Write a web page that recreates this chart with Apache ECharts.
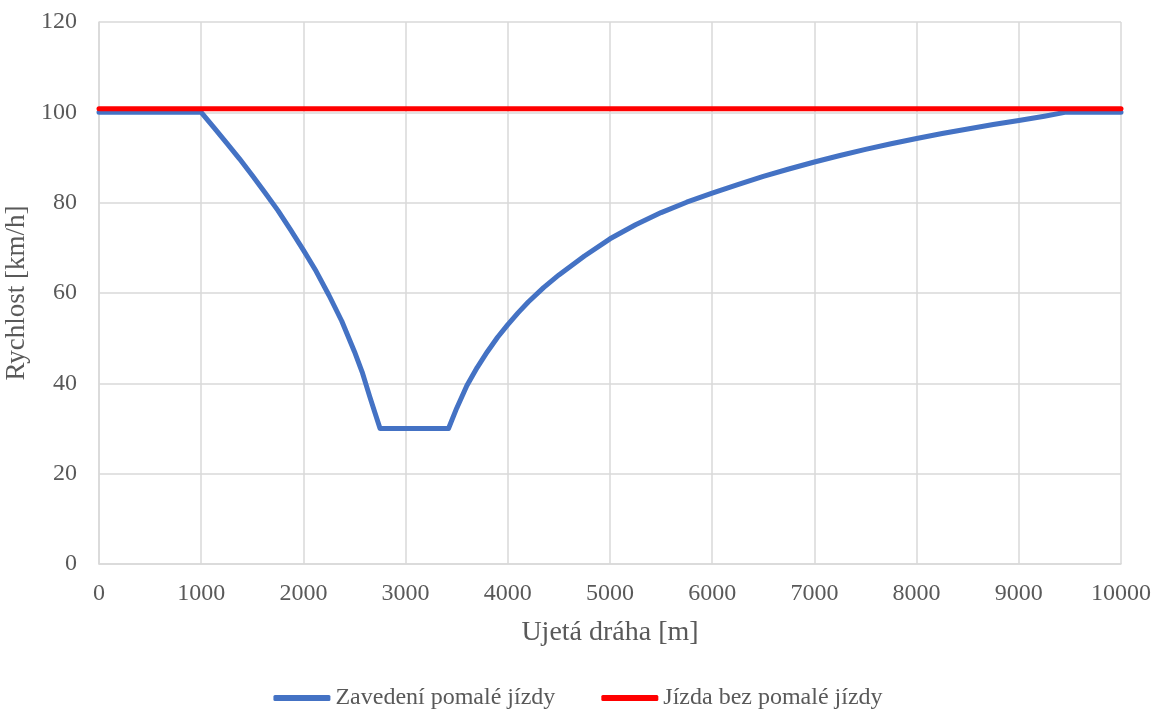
<!DOCTYPE html>
<html>
<head>
<meta charset="utf-8">
<script src="https://cdn.jsdelivr.net/npm/echarts@6/dist/echarts.min.js"></script>
<style>
  html, body { margin: 0; padding: 0; background: #fff; }
  #chart { width: 1156px; height: 711px; }
</style>
</head>
<body>
<div id="chart"></div>
<script>
// Distance travelled [m] and speed [km/h] with a slow-speed section
const distSlow = [0, 1000, 1125, 1250, 1375, 1500, 1625, 1750, 1875, 2000, 2125, 2250, 2375, 2500, 2575, 2650, 2700, 2750,
  3420, 3500, 3600, 3700, 3800, 3900, 4000, 4100, 4200, 4350, 4500, 4750, 5000, 5250, 5500, 5750, 6000, 6250, 6500, 6750,
  7000, 7250, 7500, 7750, 8000, 8250, 8500, 8750, 9000, 9250, 9450, 10000];
const speedSlow = [100, 100, 96.6, 93.2, 89.7, 86, 82.2, 78.3, 74, 69.5, 64.8, 59.5, 53.8, 47, 42.5, 37, 33.5, 30,
  30, 34.5, 39.5, 43.5, 47, 50.2, 53, 55.6, 58, 61.2, 64, 68.2, 72, 75.1, 77.8, 80.1, 82.1, 84, 85.8, 87.45,
  89, 90.45, 91.8, 93.05, 94.2, 95.3, 96.3, 97.3, 98.2, 99.15, 100, 100];

// Reference run without the slow section
const distFull = [0, 10000];
const speedFull = [100.8, 100.8];

const seriesNames = ['Zavedení pomalé jízdy', 'Jízda bez pomalé jízdy'];
const xTitle = 'Ujetá dráha [m]';
const yTitle = 'Rychlost [km/h]';

const font = '"Liberation Serif", "Times New Roman", serif';
const textColor = '#595959';
const gridColor = '#d9d9d9';

const pairs = (xs, ys) => xs.map((x, i) => [x, ys[i]]);

const chart = echarts.init(document.getElementById('chart'), null, { renderer: 'canvas' });
chart.setOption({
  animation: false,
  backgroundColor: '#ffffff',
  textStyle: { fontFamily: font, color: textColor },
  grid: { left: 99, right: 35, top: 22, bottom: 147, containLabel: false, outerBoundsMode: 'none' },
  legend: {
    top: 681,
    left: 'center',
    itemWidth: 57,
    itemHeight: 6,
    itemGap: 46,
    icon: 'roundRect',
    textStyle: { fontFamily: font, fontSize: 24, color: textColor },
    data: seriesNames
  },
  xAxis: {
    type: 'value',
    min: 0,
    max: 10000,
    interval: 1000,
    name: xTitle,
    nameLocation: 'middle',
    nameGap: 55,
    nameTextStyle: { fontFamily: font, fontSize: 28, color: textColor },
    axisLine: { show: true, lineStyle: { color: gridColor, width: 1.5 } },
    axisTick: { show: false },
    axisLabel: { fontFamily: font, fontSize: 24, color: textColor, margin: 18, formatter: v => String(v) },
    splitLine: { show: true, lineStyle: { color: gridColor, width: 1.5 } }
  },
  yAxis: {
    type: 'value',
    min: 0,
    max: 120,
    interval: 20,
    name: yTitle,
    nameLocation: 'middle',
    nameGap: 63,
    nameRotate: 90,
    nameTextStyle: { fontFamily: font, fontSize: 27, color: textColor },
    axisLine: { show: true, lineStyle: { color: gridColor, width: 1.5 } },
    axisTick: { show: false },
    axisLabel: { fontFamily: font, fontSize: 24, color: textColor, margin: 22 },
    splitLine: { show: true, lineStyle: { color: gridColor, width: 1.5 } }
  },
  series: [
    {
      name: seriesNames[0],
      type: 'line',
      data: pairs(distSlow, speedSlow),
      smooth: false,
      showSymbol: false,
      symbol: 'none',
      lineStyle: { color: '#4472C4', width: 5, cap: 'round', join: 'round' },
      itemStyle: { color: '#4472C4' },
      z: 2
    },
    {
      name: seriesNames[1],
      type: 'line',
      data: pairs(distFull, speedFull),
      showSymbol: false,
      symbol: 'none',
      lineStyle: { color: '#FF0000', width: 5, cap: 'round' },
      itemStyle: { color: '#FF0000' },
      z: 3
    }
  ]
});
</script>
</body>
</html>
